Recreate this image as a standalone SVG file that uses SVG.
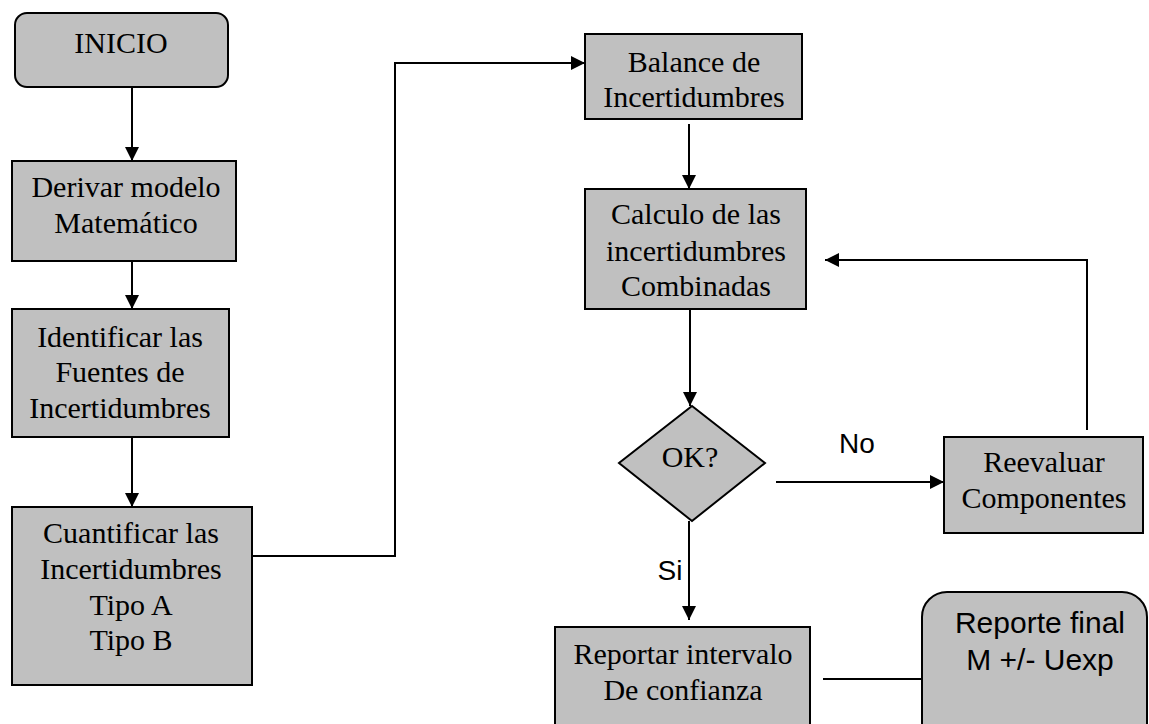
<svg xmlns="http://www.w3.org/2000/svg" width="1149" height="724" viewBox="0 0 1149 724">
<style>
.box{fill:#c0c0c0;stroke:#000;stroke-width:2}
.t{font-family:"Liberation Serif","Times New Roman",serif;font-size:30px;fill:#000;text-anchor:middle}
.a{font-family:"Liberation Sans",Arial,sans-serif;fill:#000;text-anchor:middle}
.c{fill:none;stroke:#000;stroke-width:2}
</style>
<defs>
<marker id="arr" markerUnits="userSpaceOnUse" markerWidth="16" markerHeight="16" refX="14" refY="7" orient="auto">
<path d="M0,0 L14,7 L0,14 Z" fill="#000"/>
</marker>
</defs>
<rect width="1149" height="724" fill="#fff"/>
<g id="connectors">
<line class="c" x1="132" y1="87" x2="132" y2="161" marker-end="url(#arr)"/>
<line class="c" x1="132" y1="261" x2="132" y2="309" marker-end="url(#arr)"/>
<line class="c" x1="132" y1="433" x2="132" y2="507" marker-end="url(#arr)"/>
<polyline class="c" points="252,556 395,556 395,63 585,63" marker-end="url(#arr)"/>
<line class="c" x1="689" y1="124" x2="689" y2="189" marker-end="url(#arr)"/>
<line class="c" x1="690" y1="309" x2="690" y2="406" marker-end="url(#arr)"/>
<line class="c" x1="776" y1="482" x2="944" y2="482" marker-end="url(#arr)"/>
<polyline class="c" points="1087,430 1087,260 825,260" marker-end="url(#arr)"/>
<line class="c" x1="689" y1="521" x2="689" y2="620" marker-end="url(#arr)"/>
<line class="c" x1="823" y1="679" x2="922" y2="679"/>
<text class="a" x="857" y="453" font-size="28">No</text>
<text class="a" x="670" y="580" font-size="28">Si</text>
</g>
<g id="inicio">
<rect class="box" x="15" y="13" width="213" height="74" rx="12"/>
<text class="t" x="121" y="53">INICIO</text>
</g>
<g id="derivar">
<rect class="box" x="12" y="161" width="224" height="100"/>
<text class="t" x="126" y="197">Derivar modelo</text>
<text class="t" x="126" y="233">Matemático</text>
</g>
<g id="identificar">
<rect class="box" x="12" y="309" width="217" height="128"/>
<text class="t" x="120" y="347">Identificar las</text>
<text class="t" x="120" y="382">Fuentes de</text>
<text class="t" x="120" y="418">Incertidumbres</text>
</g>
<g id="cuantificar">
<rect class="box" x="12" y="507" width="240" height="178"/>
<text class="t" x="131" y="543">Cuantificar las</text>
<text class="t" x="131" y="579">Incertidumbres</text>
<text class="t" x="131" y="615">Tipo A</text>
<text class="t" x="131" y="650">Tipo B</text>
</g>
<g id="balance">
<rect class="box" x="585" y="34" width="217" height="85"/>
<text class="t" x="694" y="72">Balance de</text>
<text class="t" x="694" y="107">Incertidumbres</text>
</g>
<g id="calculo">
<rect class="box" x="585" y="189" width="221" height="120"/>
<text class="t" x="696" y="224">Calculo de las</text>
<text class="t" x="696" y="261">incertidumbres</text>
<text class="t" x="696" y="296">Combinadas</text>
</g>
<g id="ok">
<polygon class="box" points="692,406 765,463 692,521 619,463"/>
<text class="t" x="690" y="467">OK?</text>
</g>
<g id="reevaluar">
<rect class="box" x="944" y="437" width="199" height="96"/>
<text class="t" x="1044" y="472">Reevaluar</text>
<text class="t" x="1044" y="508">Componentes</text>
</g>
<g id="reportar">
<rect class="box" x="555" y="627" width="255" height="120"/>
<text class="t" x="683" y="664">Reportar intervalo</text>
<text class="t" x="683" y="700">De confianza</text>
</g>
<g id="reporte">
<rect class="box" x="922" y="592" width="225" height="160" rx="25"/>
<text class="a" x="1040" y="633" font-size="30">Reporte final</text>
<text class="a" x="1040" y="670" font-size="30">M +/- Uexp</text>
</g>
</svg>
